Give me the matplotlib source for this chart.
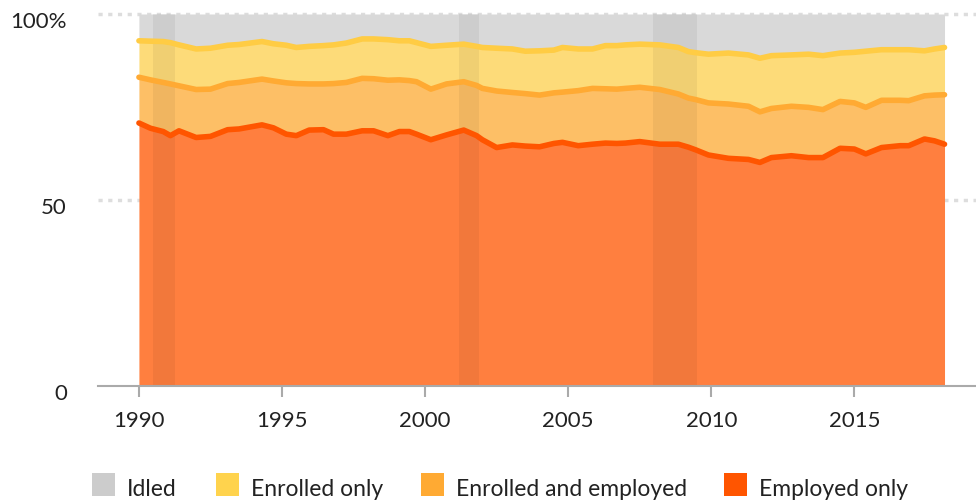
import numpy as np
import matplotlib
matplotlib.use("Agg")
import matplotlib.pyplot as plt
import matplotlib.transforms as mtransforms
from matplotlib.patches import Rectangle

years = [1990.0, 1990.4, 1990.85, 1991.1, 1991.4, 1992.0, 1992.5, 1993.1, 1993.5, 1994.3,
         1994.7, 1995.15, 1995.5, 1995.95, 1996.45, 1996.8, 1997.25, 1997.8, 1998.2, 1998.7,
         1999.1, 1999.45, 1999.7, 2000.2, 2000.75, 2001.35, 2001.8, 2002.0, 2002.5, 2003.05,
         2003.5, 2004.0, 2004.5, 2004.8, 2005.35, 2005.85, 2006.3, 2006.7, 2007.0, 2007.5,
         2008.2, 2008.85, 2009.2, 2009.45, 2009.9, 2010.6, 2011.3, 2011.7, 2012.1, 2012.8,
         2013.4, 2013.9, 2014.5, 2015.0, 2015.4, 2015.95, 2016.6, 2016.9, 2017.45, 2017.8,
         2018.15]

# cumulative levels (percent)
employed_only = [70.7, 69.3, 68.4, 67.3, 68.6, 66.8, 67.1, 68.9, 69.1, 70.2,
                 69.4, 67.7, 67.3, 68.8, 68.9, 67.7, 67.7, 68.6, 68.6, 67.3,
                 68.4, 68.4, 67.7, 66.2, 67.5, 68.8, 67.3, 66.2, 64.1, 64.8,
                 64.5, 64.3, 65.2, 65.5, 64.6, 65.0, 65.3, 65.2, 65.3, 65.7,
                 65.0, 65.0, 64.2, 63.5, 62.1, 61.2, 60.9, 60.1, 61.4, 61.9,
                 61.4, 61.4, 63.9, 63.7, 62.4, 64.1, 64.6, 64.6, 66.4, 65.9,
                 65.0]
enrolled_and_employed_top = [83.0, 82.3, 81.6, 81.2, 80.7, 79.7, 79.8, 81.3, 81.6, 82.5,
                             82.0, 81.5, 81.3, 81.2, 81.2, 81.3, 81.6, 82.7, 82.6, 82.2,
                             82.3, 82.1, 81.8, 79.8, 81.2, 81.8, 80.8, 80.0, 79.3, 78.9,
                             78.6, 78.2, 78.8, 79.0, 79.4, 80.0, 79.9, 79.8, 80.0, 80.3,
                             79.7, 78.5, 77.4, 77.0, 76.1, 75.8, 75.2, 73.7, 74.6, 75.2,
                             74.9, 74.3, 76.5, 76.1, 74.9, 76.8, 76.8, 76.7, 78.0, 78.2,
                             78.3]
enrolled_only_top = [92.8, 92.7, 92.6, 92.3, 91.7, 90.6, 90.8, 91.6, 91.8, 92.6,
                     92.0, 91.6, 91.0, 91.3, 91.5, 91.7, 92.2, 93.3, 93.3, 93.1,
                     92.8, 92.8, 92.3, 91.3, 91.6, 91.9, 91.3, 91.0, 90.8, 90.6,
                     90.0, 90.1, 90.3, 91.0, 90.6, 90.6, 91.5, 91.5, 91.7, 91.9,
                     91.7, 91.0, 89.9, 89.6, 89.2, 89.5, 89.0, 88.1, 88.8, 89.0,
                     89.2, 88.8, 89.5, 89.7, 90.0, 90.4, 90.4, 90.4, 90.1, 90.6,
                     91.0]
total = [100.0] * len(years)

recessions = [(1990.5, 1991.25), (2001.2, 2001.9), (2007.95, 2009.5)]

x_ticks = [1990, 1995, 2000, 2005, 2010, 2015]
y_ticks = [0, 50, 100]
y_tick_labels = ["0", "50", "100%"]
legend_labels = ["Idled", "Enrolled only", "Enrolled and employed", "Employed only"]

plt.rcParams['font.family'] = ['Lato', 'DejaVu Sans']

fig = plt.figure(figsize=(9.76, 5.02), dpi=100)
ax = fig.add_axes([98 / 976, 1 - 387 / 502, 1 - 98 / 976, 372 / 502])

x = np.array(years)
ax.fill_between(x, enrolled_only_top, total, color="#d9d9d9", lw=0, zorder=1)
ax.fill_between(x, enrolled_and_employed_top, enrolled_only_top, color="#fddb79", lw=0, zorder=1)
ax.fill_between(x, employed_only, enrolled_and_employed_top, color="#fdbf66", lw=0, zorder=1)
ax.fill_between(x, 0, employed_only, color="#ff7f3f", lw=0, zorder=1)

for a, b in recessions:
    ax.axvspan(a, b, ymin=0, ymax=1, color="black", alpha=0.05, lw=0, zorder=2)

ax.plot(x, enrolled_only_top, color="#ffcc44", lw=4.0, solid_capstyle="round",
        solid_joinstyle="round", zorder=3)
ax.plot(x, enrolled_and_employed_top, color="#ffaa33", lw=4.0, solid_capstyle="round",
        solid_joinstyle="round", zorder=3)
ax.plot(x, employed_only, color="#ff5500", lw=4.0, solid_capstyle="round",
        solid_joinstyle="round", zorder=3)

ax.set_xlim(1988.57, 2019.25)
ax.set_ylim(0, 100)

for yv in [50, 100]:
    ax.axhline(yv, color="#dddddd", lw=2.5, ls=(0, (1.2, 1.6)), zorder=0.5, clip_on=False)
ax.axhline(0, color="#aaaaaa", lw=1.5, zorder=4, clip_on=False)

for s in ax.spines.values():
    s.set_visible(False)

ax.set_xticks(x_ticks)
ax.set_xticklabels([str(t) for t in x_ticks])
ax.tick_params(axis="x", direction="out", length=8, width=1.5, color="#aaaaaa",
               labelsize=16, labelcolor="#222222", pad=9)
ax.set_yticks(y_ticks)
ax.set_yticklabels([])
ax.tick_params(axis="y", length=0)

ytrans = mtransforms.blended_transform_factory(ax.transAxes, ax.transData)
ytrans = mtransforms.offset_copy(ytrans, fig=fig, x=-31, y=-13, units="dots")
for yv, lab in zip(y_ticks, y_tick_labels):
    ax.text(0, yv, lab, transform=ytrans, ha="right", va="baseline",
            fontsize=16, color="#222222", clip_on=False)

legend_colors = ["#cccccc", "#ffd34d", "#ffaa33", "#ff5500"]
legend_x = [92, 216, 421, 724]
for lx, lab, col in zip(legend_x, legend_labels, legend_colors):
    fig.patches.append(Rectangle((lx / 976, 1 - 497 / 502), 23 / 976, 23 / 502,
                                 transform=fig.transFigure, color=col, lw=0))
    fig.text((lx + 35) / 976, 1 - 496 / 502, lab, fontsize=16.5, color="#222222",
             va="baseline", ha="left")

fig.savefig("out.png", dpi=100)
